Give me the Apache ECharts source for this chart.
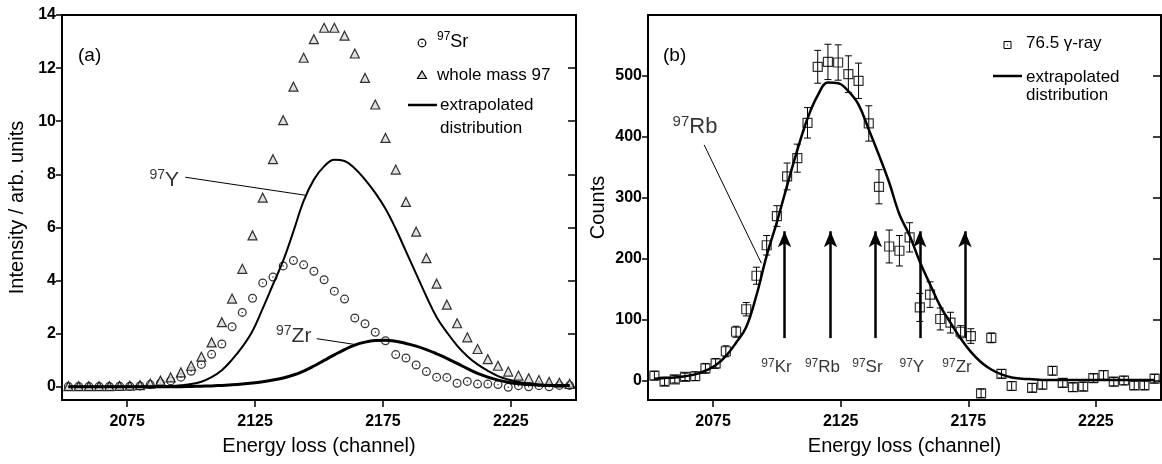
<!DOCTYPE html>
<html>
<head>
<meta charset="utf-8">
<script src="https://cdn.jsdelivr.net/npm/echarts@6/dist/echarts.min.js"></script>
<style>
html, body { margin: 0; padding: 0; background: #fff; }
#chart { width: 1162px; height: 464px; }
</style>
</head>
<body>
<div id="chart"></div>
<script>
// channel of each bin (4 channels per bin), shared by both panels
const channels = [2052, 2056, 2060, 2064, 2068, 2072, 2076, 2080, 2084, 2088,
                  2092, 2096, 2100, 2104, 2108, 2112, 2116, 2120, 2124, 2128,
                  2132, 2136, 2140, 2144, 2148, 2152, 2156, 2160, 2164, 2168,
                  2172, 2176, 2180, 2184, 2188, 2192, 2196, 2200, 2204, 2208,
                  2212, 2216, 2220, 2224, 2228, 2232, 2236, 2240, 2244, 2248];

// (a) 97Sr circles
const sr97 = [0.01, 0.01, 0.01, 0.01, 0.01, 0.02, 0.02, 0.03, 0.08, 0.13,
              0.22, 0.36, 0.58, 0.84, 1.22, 1.61, 2.26, 2.80, 3.33, 3.91,
              4.13, 4.55, 4.75, 4.59, 4.35, 4.03, 3.60, 3.30, 2.59, 2.37,
              2.05, 1.73, 1.21, 1.08, 0.82, 0.57, 0.36, 0.35, 0.13, 0.20,
              0.10, 0.10, 0.08, -0.02, 0.04, 0.00, 0.04, 0.00, 0.05, 0.05];
// (a) whole mass 97 triangles
const mass97 = [0.02, 0.02, 0.02, 0.02, 0.02, 0.03, 0.04, 0.06, 0.12, 0.23,
                0.35, 0.54, 0.79, 1.13, 1.67, 2.43, 3.32, 4.44, 5.70, 7.12,
                8.57, 10.04, 11.30, 12.39, 13.09, 13.52, 13.52, 13.22, 12.55, 11.63,
                10.63, 9.37, 8.18, 6.96, 5.84, 4.84, 3.88, 3.09, 2.39, 1.86,
                1.42, 1.04, 0.79, 0.57, 0.42, 0.32, 0.25, 0.18, 0.15, 0.11];
// (a) extrapolated 97Y distribution
const yFit = [0, 0, 0, 0, 0, 0, 0, 0, 0, 0.01,
              0.03, 0.06, 0.10, 0.19, 0.36, 0.62, 1.02, 1.50, 2.10, 2.95,
              3.85, 4.75, 5.85, 7.00, 7.80, 8.30, 8.55, 8.50, 8.22, 7.80,
              7.30, 6.70, 5.95, 5.10, 4.25, 3.40, 2.62, 2.05, 1.55, 1.15,
              0.84, 0.60, 0.40, 0.27, 0.18, 0.12, 0.08, 0.06, 0.05, 0.05];
// (a) extrapolated 97Zr distribution
const zrFit = [0, 0, 0, 0, 0, 0, 0, 0, 0, 0,
               0, 0, 0.01, 0.02, 0.03, 0.05, 0.07, 0.10, 0.14, 0.19,
               0.25, 0.33, 0.44, 0.59, 0.78, 0.99, 1.20, 1.40, 1.57, 1.68,
               1.74, 1.75, 1.71, 1.63, 1.53, 1.40, 1.24, 1.07, 0.88, 0.68,
               0.50, 0.36, 0.25, 0.17, 0.11, 0.08, 0.06, 0.05, 0.05, 0.05];

// (b) 76.5 keV gamma-ray counts and their errors
const gCounts = [8, -2, 2, 6, 7, 20, 28, 48, 80, 117,
                 172, 222, 270, 335, 365, 423, 515, 523, 522, 503,
                 492, 422, 318, 220, 213, 235, 120, 141, 101, 95,
                 80, 73, -21, 70, 11, -9, null, -12, -7, 16,
                 -4, -11, -10, 4, 9, -2, 0, -8, -8, 3];
const gErr = [7, 6, 6, 6, 7, 8, 8, 9, 9, 11,
              14, 16, 17, 22, 23, 25, 27, 29, 29, 30,
              29, 29, 28, 27, 25, 24, 23, 21, 18, 17,
              10, 12, 7, 8, 7, 7, 7, 7, 7, 7,
              7, 7, 7, 7, 7, 7, 7, 7, 7, 7];
// (b) extrapolated 97Rb distribution
const rbFit = [3, 4, 5, 7, 10, 16, 25, 40, 62, 88,
               140, 205, 260, 320, 378, 430, 468, 489, 488, 475,
               453, 412, 370, 325, 273, 238, 195, 158, 122, 95,
               69, 47, 30, 18, 10, 5, 3, 2, 1, 1,
               1, 1, 1, 1, 1, 1, 1, 1, 1, 1];

// arrows in (b): isotope, channel
const isotopes = ['Kr', 'Rb', 'Sr', 'Y', 'Zr'];
const arrowCh = [2103, 2121, 2138.6, 2156, 2173.7];
const arrowBase = 69.6, arrowTip = 245;

// axes
const xMin = 2049.5, xMax = 2250.5;
const xTicks = [2075, 2125, 2175, 2225];
const aTicks = [0, 2, 4, 6, 8, 10, 12, 14];
const bTicks = [0, 100, 200, 300, 400, 500];

const FONT = '"Liberation Sans", Arial, Helvetica, sans-serif';
const pairs = (xs, ys) => xs.map((x, i) => [x, ys[i]]);

const supRich = (s, m) => ({
    s: { fontSize: s, lineHeight: s, verticalAlign: 'top', color: '#000', fontFamily: FONT },
    m: { fontSize: m, lineHeight: m + 4, color: '#000', fontFamily: FONT }
});

function xAxes(gridIndex) {
    return [{
        type: 'value', gridIndex: gridIndex, min: xMin, max: xMax, position: 'bottom',
        name: 'Energy loss (channel)', nameLocation: 'middle', nameGap: 36,
        nameTextStyle: { fontSize: 20, color: '#000', fontFamily: FONT },
        axisLine: { onZero: false, lineStyle: { color: '#000', width: 2 } },
        axisTick: { customValues: xTicks, length: 7, lineStyle: { color: '#000', width: 1.5 } },
        axisLabel: { customValues: xTicks, formatter: v => String(v), margin: 14, fontSize: 16, fontWeight: 'bold', color: '#000', fontFamily: FONT },
        splitLine: { show: false }
    }, {
        type: 'value', gridIndex: gridIndex, min: xMin, max: xMax, position: 'top',
        axisLine: { onZero: false, lineStyle: { color: '#000', width: 2 } },
        axisTick: { show: false }, axisLabel: { show: false }, splitLine: { show: false }
    }];
}

function yAxes(gridIndex, min, max, ticks, name, gap) {
    return [{
        type: 'value', gridIndex: gridIndex, min: min, max: max, position: 'left',
        name: name, nameLocation: 'middle', nameGap: gap,
        nameTextStyle: { fontSize: 20, color: '#000', fontFamily: FONT },
        axisLine: { onZero: false, lineStyle: { color: '#000', width: 2 } },
        axisTick: { customValues: ticks, length: 6, lineStyle: { color: '#000', width: 1.5 } },
        axisLabel: { customValues: ticks, formatter: v => String(v), margin: 6, fontSize: 16, fontWeight: 'bold', color: '#000', fontFamily: FONT },
        splitLine: { show: false }
    }, {
        type: 'value', gridIndex: gridIndex, min: min, max: max, position: 'right',
        axisLine: { onZero: false, lineStyle: { color: '#000', width: 2 } },
        axisTick: { customValues: ticks, inside: true, length: 8, lineStyle: { color: '#000', width: 1.5 } },
        axisLabel: { show: false }, splitLine: { show: false }
    }];
}

// ring with a centre dot
const dotCircle = 'path://M10 0A10 10 0 1 1 10 20A10 10 0 1 1 10 0ZM10 2.8A7.2 7.2 0 1 0 10 17.2A7.2 7.2 0 1 0 10 2.8ZM10 8.4A1.6 1.6 0 1 1 10 11.6A1.6 1.6 0 1 1 10 8.4Z';

function renderErr(params, api) {
    const x = api.value(0), y = api.value(1), e = api.value(2);
    const top = api.coord([x, y + e]);
    const bot = api.coord([x, y - e]);
    const w = 3.5;
    const st = { stroke: '#000', lineWidth: 1 };
    return {
        type: 'group', children: [
            { type: 'line', shape: { x1: top[0], y1: top[1], x2: bot[0], y2: bot[1] }, style: st },
            { type: 'line', shape: { x1: top[0] - w, y1: top[1], x2: top[0] + w, y2: top[1] }, style: st },
            { type: 'line', shape: { x1: bot[0] - w, y1: bot[1], x2: bot[0] + w, y2: bot[1] }, style: st }
        ]
    };
}

const errData = channels.map((c, i) => [c, gCounts[i], gErr[i]]).filter(d => d[1] !== null);

const txt = (x, y, text, size) => ({
    type: 'text', x: x, y: y, silent: true,
    style: { text: text, fontSize: size, fontFamily: FONT, fill: '#000', verticalAlign: 'middle' }
});
const supTxt = (x, y, sup, main, s, m) => ({
    type: 'text', x: x, y: y, silent: true,
    style: { text: '{s|' + sup + '}{m|' + main + '}', verticalAlign: 'middle', rich: supRich(s, m) }
});

const chart = echarts.init(document.getElementById('chart'));

const option = {
    animation: false,
    backgroundColor: '#fff',
    grid: [
        { left: 62, top: 15, width: 514, height: 385 },
        { left: 648, top: 15, width: 513, height: 385 }
    ],
    xAxis: [].concat(xAxes(0), xAxes(1)),
    yAxis: [].concat(
        yAxes(0, -0.5, 14, aTicks, 'Intensity / arb. units', 35),
        yAxes(1, -32, 600, bTicks, 'Counts', 40)
    ),
    series: [
        // ---- panel (a)
        {
            type: 'line', xAxisIndex: 0, yAxisIndex: 0, data: pairs(channels, yFit),
            showSymbol: false, smooth: 0.4, silent: true,
            lineStyle: { color: '#000', width: 2 },
            markLine: {
                silent: true, symbol: 'none', label: { show: false },
                lineStyle: { color: '#000', width: 1, type: 'solid' },
                data: [[{ coord: [2097.7, 7.89] }, { coord: [2144.8, 7.21] }]]
            }
        },
        {
            type: 'line', xAxisIndex: 0, yAxisIndex: 0, data: pairs(channels, zrFit),
            showSymbol: false, smooth: 0.4, silent: true,
            lineStyle: { color: '#000', width: 3 },
            markLine: {
                silent: true, symbol: 'none', label: { show: false },
                lineStyle: { color: '#000', width: 1, type: 'solid' },
                data: [[{ coord: [2149.1, 1.81] }, { coord: [2164.8, 1.58] }]]
            }
        },
        {
            type: 'scatter', xAxisIndex: 0, yAxisIndex: 0, data: pairs(channels, sr97),
            symbol: dotCircle, symbolSize: 9, silent: true,
            itemStyle: { color: '#000', borderWidth: 0 }
        },
        {
            type: 'scatter', xAxisIndex: 0, yAxisIndex: 0, data: pairs(channels, mass97),
            symbol: 'triangle', symbolSize: 9, silent: true,
            itemStyle: { color: '#d8d8d8', borderColor: '#000', borderWidth: 1.2 }
        },
        {
            type: 'scatter', xAxisIndex: 0, yAxisIndex: 0, silent: true,
            symbolSize: 1, itemStyle: { color: 'rgba(0,0,0,0)' },
            data: [{ value: [2089.5, 7.77], name: 'Y' }, { value: [2140.1, 1.89], name: 'Zr' }],
            label: {
                show: true, position: 'inside',
                formatter: p => '{s|97}{m|' + p.name + '}',
                rich: supRich(14, 21)
            }
        },
        // ---- panel (b)
        {
            type: 'custom', xAxisIndex: 2, yAxisIndex: 2, data: errData,
            renderItem: renderErr, encode: { x: 0, y: 1 }, silent: true, z: 2
        },
        {
            type: 'line', xAxisIndex: 2, yAxisIndex: 2, data: pairs(channels, rbFit),
            showSymbol: false, smooth: 0.4, silent: true, z: 3,
            lineStyle: { color: '#000', width: 2.5 },
            markLine: {
                silent: true, symbol: 'none', label: { show: false },
                lineStyle: { color: '#000', width: 1, type: 'solid' },
                data: [[{ coord: [2071.5, 386.8] }, { coord: [2093.9, 192.6] }]]
            }
        },
        {
            type: 'scatter', xAxisIndex: 2, yAxisIndex: 2, data: pairs(channels, gCounts),
            symbol: 'rect', symbolSize: 9, silent: true, z: 4,
            itemStyle: { color: 'rgba(255,255,255,0)', borderColor: '#000', borderWidth: 1.2 },
            markLine: {
                silent: true, symbol: ['none', 'arrow'], symbolSize: [10, 16],
                label: { show: false },
                lineStyle: { color: '#000', width: 2.5, type: 'solid' },
                data: arrowCh.map(c => [{ coord: [c, arrowBase] }, { coord: [c, arrowTip] }])
            }
        },
        {
            type: 'scatter', xAxisIndex: 2, yAxisIndex: 2, silent: true,
            symbolSize: 1, itemStyle: { color: 'rgba(0,0,0,0)' },
            data: isotopes.map((n, i) => ({ value: [arrowCh[i], 21], name: n })),
            label: {
                show: true, position: 'inside', offset: [-8, 0],
                formatter: p => '{s|97}{m|' + p.name + '}',
                rich: supRich(12, 17)
            }
        },
        {
            type: 'scatter', xAxisIndex: 2, yAxisIndex: 2, silent: true,
            symbolSize: 1, itemStyle: { color: 'rgba(0,0,0,0)' },
            data: [{ value: [2067.9, 416.3], name: 'Rb' }],
            label: {
                show: true, position: 'inside',
                formatter: p => '{s|97}{m|' + p.name + '}',
                rich: supRich(15, 22)
            }
        }
    ],
    graphic: [
        txt(78, 56, '(a)', 19),
        txt(663, 56, '(b)', 19),
        // legend (a)
        { type: 'circle', silent: true, shape: { cx: 422, cy: 43, r: 3.8 }, style: { fill: 'none', stroke: '#000', lineWidth: 1.2 } },
        { type: 'circle', silent: true, shape: { cx: 422, cy: 43, r: 0.7 }, style: { fill: '#000' } },
        supTxt(437, 42, '97', 'Sr', 12, 18),
        { type: 'polygon', silent: true, shape: { points: [[422, 71], [426.5, 78.5], [417.5, 78.5]] }, style: { fill: '#d8d8d8', stroke: '#000', lineWidth: 1.2 } },
        txt(437, 75, 'whole mass 97', 17),
        { type: 'line', silent: true, shape: { x1: 408, y1: 105, x2: 437, y2: 105 }, style: { stroke: '#000', lineWidth: 2.5 } },
        txt(440, 105, 'extrapolated', 17),
        txt(440, 128, 'distribution', 17),
        // legend (b)
        { type: 'rect', silent: true, shape: { x: 1004, y: 41.5, width: 7, height: 7 }, style: { fill: 'none', stroke: '#000', lineWidth: 1 } },
        { type: 'circle', silent: true, shape: { cx: 1007.5, cy: 45, r: 0.6 }, style: { fill: '#000' } },
        txt(1026, 43, '76.5 γ-ray', 17),
        { type: 'line', silent: true, shape: { x1: 993, y1: 76, x2: 1022, y2: 76 }, style: { stroke: '#000', lineWidth: 2.5 } },
        txt(1026, 77, 'extrapolated', 17),
        txt(1026, 95, 'distribution', 17)
    ]
};

chart.setOption(option);
</script>
</body>
</html>
